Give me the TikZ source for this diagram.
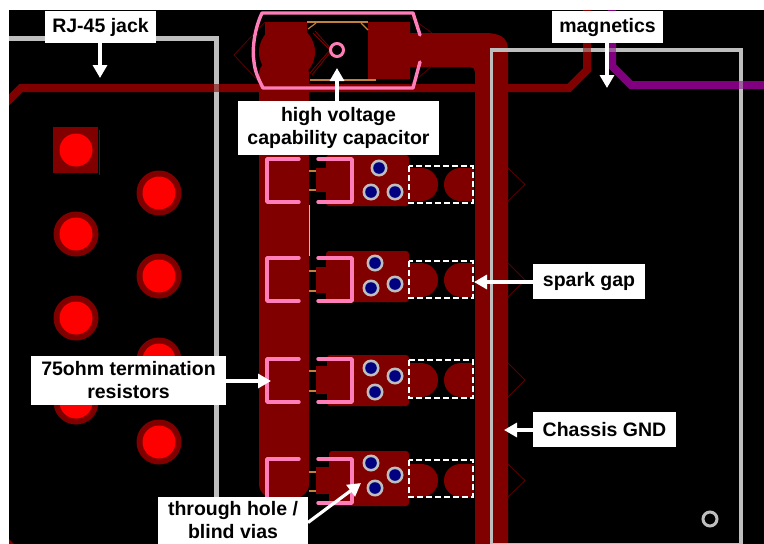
\documentclass[tikz,border=0pt]{standalone}
\usepackage{fontspec}
\setmainfont{Liberation Sans}
\usetikzlibrary{arrows.meta}
\definecolor{cu}{HTML}{800000}
\definecolor{cuthin}{HTML}{5A0000}
\definecolor{silk}{HTML}{FF7DB8}
\definecolor{outl}{HTML}{BEBEBE}
\definecolor{tan}{HTML}{C08040}
\definecolor{viablue}{HTML}{000080}
\definecolor{purp}{HTML}{800080}
\tikzset{
  labelbox/.style={fill=white,inner sep=0pt,outer sep=0pt,align=center,
    font=\fontsize{19.5}{23}\selectfont\bfseries},
  callout/.style={draw=white,line width=3.2pt,-{Triangle[length=13pt,width=14pt]}},
  trace/.style={draw=cu,line width=8pt,miter limit=4},
  outline/.style={draw=outl,line width=5pt},
  silkline/.style={draw=silk,line width=3.4pt,line cap=round,line join=round},
  lead/.style={draw=tan,line width=1.2pt},
  thin/.style={draw=cuthin,line width=.8pt},
  gapbox/.style={draw=white,line width=1.6pt,dash pattern=on 6pt off 3pt},
}
\newcommand{\platedhole}[2]{%
  \fill[cu] (#1,#2) circle[radius=22.5pt];
  \fill[red] (#1,#2) circle[radius=16.5pt];}
\newcommand{\pcbvia}[2]{%
  \fill[outl] (#1,#2) circle[radius=8.5pt];
  \fill[viablue] (#1,#2) circle[radius=5.8pt];}
\newcommand{\termrow}[9]{%
  \fill[cu,rounded corners=3pt] (#1,#2) rectangle (409,#3);
  \fill[cu] (316,#6) rectangle (330,#7);
  \draw[lead] (309,#8) -- (316,#8);
  \draw[lead] (309,#9) -- (316,#9);
  \draw[silkline] (299,#4) -- (267,#4) -- (267,#5) -- (299,#5);
  \draw[silkline] (318,#4) -- (352,#4) -- (352,#5) -- (318,#5);}
\newcommand{\sparkgap}[4]{%
  \pgfmathsetmacro{\gr}{(#2-#1)/2}
  \fill[cu] (409,#1) -- (438-\gr,#1) arc[start angle=90,end angle=-90,radius=\gr pt] -- (409,#2) -- cycle;
  \fill[cu] (474,#1) -- (444+\gr,#1) arc[start angle=90,end angle=270,radius=\gr pt] -- (474,#2) -- cycle;
  \draw[gapbox] (409,#3) rectangle (473,#4);
  \draw[thin] (508,#1) -- (525,{(#1+#2)/2}) -- (508,#2);}
\begin{document}
\begin{tikzpicture}[x=1pt,y=-1pt]
\useasboundingbox (0,0) rectangle (764,544);
\fill[white] (0,0) rectangle (764,544);
\fill[black] (9,10) rectangle (764,544);
\begin{scope}
\clip (9,10) rectangle (764,544);
\draw[trace] (5,104) -- (21,88) -- (569,88) -- (587,70) -- (587,10);
\draw[trace,draw=purp] (612,10) -- (612,66) -- (631,85) -- (764,85);
\fill[cu] (9,539) -- (14,544) -- (9,544) -- cycle;
\fill[cu] (53,127) rectangle (98,173);
\draw[cu,line width=.8pt] (99,130) -- (99,175);
\fill[red] (76,150) circle[radius=16.5pt];
\platedhole{159}{193}
\platedhole{76}{234}
\platedhole{159}{276}
\platedhole{76}{318}
\platedhole{159}{360}
\platedhole{76}{402}
\platedhole{159}{442}
\fill[cu] (265,22) rectangle (307,60);
\fill[cu] (287,52) circle[radius=28pt];
\fill[cu,rounded corners=14pt] (259,60) -- (309,60) -- (309,498) -- (259,498) -- cycle;
\fill[cu] (368,22) -- (410,22) -- (410,33) -- (484,33)
  .. controls (498,33) and (508,36) .. (508,50)
  -- (508,544) -- (475,544) -- (475,72) .. controls (475,69) and (473,67) .. (470,67)
  -- (410,67) -- (410,79) -- (368,79) -- cycle;
\draw[thin] (265,22) -- (234,55) -- (262,85);
\draw[thin] (410,17) -- (432,33);
\draw[thin] (432,66) -- (410,85);
\draw[thin,draw=cu] (313,33) -- (330,50) -- (310,73);
\draw[thin,draw=cu] (315,31) -- (332,50) -- (312,75);
\draw[lead] (307,22) -- (368,22);
\draw[lead] (310,80) -- (376,80);
\draw[lead] (316,23) -- (308,29);
\draw[lead] (361,23) -- (368,30);
\draw[silkline] (420,35) -- (413,13) -- (262,13) .. controls (254,30) and (252,50) .. (254,62) .. controls (255,72) and (259,80) .. (263,88) -- (413,88) -- (420,62);
\draw[silk,line width=3pt] (337,50) circle[radius=6.5pt];
\termrow{326}{155}{206}{159}{202}{168}{192}{171}{190}
\termrow{326}{251}{302}{258}{301}{267}{293}{271}{291}
\termrow{327}{355}{406}{359}{402}{366}{394}{371}{391}
\termrow{329}{451}{506}{459}{503}{467}{494}{472}{491}
\draw[outl,line width=1pt] (309,205) -- (309,256);
\pcbvia{379}{168}\pcbvia{371}{192}\pcbvia{395}{192}
\pcbvia{375}{263}\pcbvia{371}{288}\pcbvia{395}{284}
\pcbvia{371}{368}\pcbvia{395}{376}\pcbvia{375}{392}
\pcbvia{371}{463}\pcbvia{395}{475}\pcbvia{375}{488}
\sparkgap{168}{201}{166}{203}
\sparkgap{263}{297}{261}{298}
\sparkgap{363}{397}{360}{398}
\sparkgap{464}{497}{460}{497}
\draw[outline] (5,38) -- (216,38) -- (216,548);
\draw[outline,line width=3.6pt] (491.5,548) -- (491.5,50) -- (741,50) -- (741,548);
\draw[outl,line width=1.5pt] (491.5,543.5) -- (741,543.5);
\draw[outl,line width=3pt] (710,519) circle[radius=7pt];
% trace tint where traces cross the outlines
\fill[cu,opacity=.6] (213.5,84) rectangle (218.5,92);
\fill[cu,opacity=.5] (583,48.2) rectangle (591,51.8);
\fill[purp,opacity=.5] (608,48.2) rectangle (616,51.8);
\fill[purp,opacity=.5] (739.2,81) rectangle (742.8,89);
\end{scope}
\node[labelbox,minimum width=111pt,minimum height=32pt] (rj) at (100.5,27) {RJ-45 jack};
\node[labelbox,minimum width=111pt,minimum height=32pt] (mag) at (607.5,27) {magnetics};
\node[labelbox,minimum width=201pt,minimum height=54pt] (hv) at (338.5,128) {high voltage\\capability capacitor};
\node[labelbox,minimum width=112pt,minimum height=35pt] (spark) at (589,281.5) {spark gap};
\node[labelbox,minimum width=143pt,minimum height=35pt] (chassis) at (604.5,429.5) {Chassis GND};
\node[labelbox,minimum width=195pt,minimum height=49pt] (res) at (128.5,380.5) {75ohm termination\\resistors};
\node[labelbox,minimum width=150pt,minimum height=47pt] (thru) at (233,520.5) {through hole /\\blind vias};
\coordinate (rjtip) at (100,78);
\coordinate (magtip) at (607,88);
\coordinate (hvtip) at (337,68);
\coordinate (sparktip) at (474,282);
\coordinate (chassistip) at (504,430);
\coordinate (restip) at (271,381);
\coordinate (thrutip) at (361,483);
\draw[callout] (rj.south -| rjtip) -- (rjtip);
\draw[callout] (mag.south -| magtip) -- (magtip);
\draw[callout] (hv.north -| hvtip) -- (hvtip);
\draw[callout] (spark.west |- sparktip) -- (sparktip);
\draw[callout] (chassis.west |- chassistip) -- (chassistip);
\draw[callout] (res.east |- restip) -- (restip);
\draw[callout] (thru.east) ++(0,2) -- (thrutip);
\end{tikzpicture}
\end{document}
